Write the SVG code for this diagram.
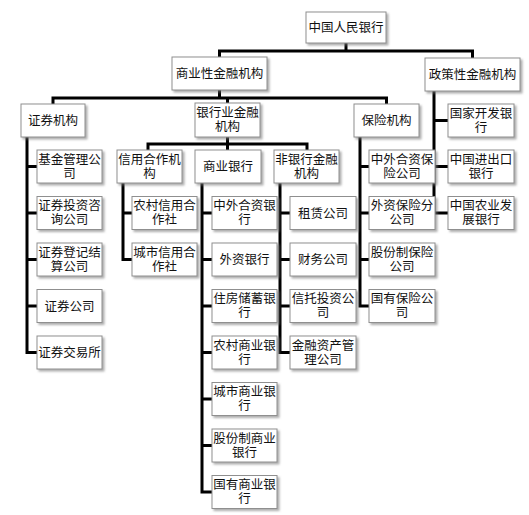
<svg xmlns="http://www.w3.org/2000/svg" width="529" height="515" viewBox="0 0 529 515">
<defs>
<filter id="sh" x="-10%" y="-10%" width="130%" height="140%">
<feDropShadow dx="2" dy="2" stdDeviation="1.2" flood-color="#777" flood-opacity="0.6"/>
</filter>
<style>
rect.b{fill:#fff;stroke:#8f8f8f;stroke-width:1;filter:url(#sh)}
text{font-family:"Noto Sans CJK SC","Noto Sans",sans-serif;font-size:12.5px;fill:#111;text-anchor:middle}
.c{fill:none;stroke:#000;stroke-width:3;stroke-linecap:square}
</style>
</defs>
<rect width="529" height="515" fill="#fff"/>
<g id="connectors">
<path class="c" d="M346,43V51M219.5,51H472.5M219.5,51V57M472.5,51V58"/>
<path class="c" d="M219.5,90V98M53,98H386.5M53,98V104M227.5,98V103M386.5,98V104"/>
<path class="c" d="M434,91V213M434,120.5H448M434,166.5H448M434,213H448"/>
<path class="c" d="M27,137V352.5M27,166.5H37M27,213H37M27,259.5H37M27,306H37M27,352.5H37"/>
<path class="c" d="M227.5,137V150M148,144H307M148,144V150M307,144V150"/>
<path class="c" d="M123,183V259.5M123,213H132M123,259.5H132"/>
<path class="c" d="M202,183V492M202,213H212M202,259.5H212M202,306H212M202,352.5H212M202,399H212M202,445.5H212M202,492H212"/>
<path class="c" d="M280,183V352.5M280,213H290M280,259.5H290M280,306H290M280,352.5H290"/>
<path class="c" d="M360,137V306M360,166.5H369M360,213H369M360,259.5H369M360,306H369"/>
</g>
<g id="n-pboc"><rect class="b" x="306" y="12" width="80" height="31"/><text x="346" y="32">中国人民银行</text></g>
<g id="n-commercial"><rect class="b" x="172" y="57" width="95" height="33"/><text x="219.5" y="78">商业性金融机构</text></g>
<g id="n-policy"><rect class="b" x="425" y="58" width="95" height="33"/><text x="472.5" y="79">政策性金融机构</text></g>
<g id="n-securities"><rect class="b" x="21" y="104" width="64" height="33"/><text x="53" y="125">证券机构</text></g>
<g id="n-banking"><rect class="b" x="195" y="103" width="65" height="34"/><text x="227.5" y="116.5">银行业金融<tspan x="227.5" dy="14.5">机构</tspan></text></g>
<g id="n-insurance"><rect class="b" x="354" y="104" width="65" height="33"/><text x="386.5" y="125">保险机构</text></g>
<g id="n-cdb"><rect class="b" x="448" y="104" width="66" height="33"/><text x="481" y="117.5">国家开发银<tspan x="481" dy="14">行</tspan></text></g>

<g id="n-fund"><rect class="b" x="37" y="150" width="65" height="33"/><text x="69.5" y="163.5">基金管理公<tspan x="69.5" dy="14">司</tspan></text></g>
<g id="n-consult"><rect class="b" x="37" y="196.5" width="65" height="33"/><text x="69.5" y="210">证券投资咨<tspan x="69.5" dy="14">询公司</tspan></text></g>
<g id="n-clearing"><rect class="b" x="37" y="243" width="65" height="33"/><text x="69.5" y="256.5">证券登记结<tspan x="69.5" dy="14">算公司</tspan></text></g>
<g id="n-broker"><rect class="b" x="37" y="289.5" width="65" height="33"/><text x="69.5" y="310.5">证券公司</text></g>
<g id="n-exchange"><rect class="b" x="37" y="336" width="65" height="33"/><text x="69.5" y="357">证券交易所</text></g>

<g id="n-credit"><rect class="b" x="117" y="150" width="65" height="33"/><text x="149.5" y="163.5">信用合作机<tspan x="149.5" dy="14">构</tspan></text></g>
<g id="n-rcc"><rect class="b" x="132" y="196.5" width="65" height="33"/><text x="164.5" y="210">农村信用合<tspan x="164.5" dy="14">作社</tspan></text></g>
<g id="n-ucc"><rect class="b" x="132" y="243" width="65" height="33"/><text x="164.5" y="256.5">城市信用合<tspan x="164.5" dy="14">作社</tspan></text></g>

<g id="n-combank"><rect class="b" x="195" y="150" width="66" height="33"/><text x="228" y="171">商业银行</text></g>
<g id="n-jv"><rect class="b" x="212" y="196.5" width="65" height="33"/><text x="244.5" y="210">中外合资银<tspan x="244.5" dy="14">行</tspan></text></g>
<g id="n-foreign"><rect class="b" x="212" y="243" width="65" height="33"/><text x="244.5" y="264">外资银行</text></g>
<g id="n-housing"><rect class="b" x="212" y="289.5" width="65" height="33"/><text x="244.5" y="303">住房储蓄银<tspan x="244.5" dy="14">行</tspan></text></g>
<g id="n-rcb"><rect class="b" x="212" y="336" width="65" height="33"/><text x="244.5" y="349.5">农村商业银<tspan x="244.5" dy="14">行</tspan></text></g>
<g id="n-ccb"><rect class="b" x="212" y="382.5" width="65" height="33"/><text x="244.5" y="396">城市商业银<tspan x="244.5" dy="14">行</tspan></text></g>
<g id="n-jsb"><rect class="b" x="212" y="429" width="65" height="33"/><text x="244.5" y="442.5">股份制商业<tspan x="244.5" dy="14">银行</tspan></text></g>
<g id="n-soe"><rect class="b" x="212" y="475.5" width="65" height="33"/><text x="244.5" y="489">国有商业银<tspan x="244.5" dy="14">行</tspan></text></g>

<g id="n-nonbank"><rect class="b" x="274" y="150" width="65" height="33"/><text x="306.5" y="163.5">非银行金融<tspan x="306.5" dy="14">机构</tspan></text></g>
<g id="n-leasing"><rect class="b" x="290" y="196.5" width="66" height="33"/><text x="323" y="217.5">租赁公司</text></g>
<g id="n-finance"><rect class="b" x="290" y="243" width="66" height="33"/><text x="323" y="264">财务公司</text></g>
<g id="n-trust"><rect class="b" x="290" y="289.5" width="66" height="33"/><text x="323" y="303">信托投资公<tspan x="323" dy="14">司</tspan></text></g>
<g id="n-amc"><rect class="b" x="290" y="336" width="66" height="33"/><text x="323" y="349.5">金融资产管<tspan x="323" dy="14">理公司</tspan></text></g>

<g id="n-jvins"><rect class="b" x="369" y="150" width="66" height="33"/><text x="402" y="163.5">中外合资保<tspan x="402" dy="14">险公司</tspan></text></g>
<g id="n-forins"><rect class="b" x="369" y="196.5" width="66" height="33"/><text x="402" y="210">外资保险分<tspan x="402" dy="14">公司</tspan></text></g>
<g id="n-jsins"><rect class="b" x="369" y="243" width="66" height="33"/><text x="402" y="256.5">股份制保险<tspan x="402" dy="14">公司</tspan></text></g>
<g id="n-soeins"><rect class="b" x="369" y="289.5" width="66" height="33"/><text x="402" y="303">国有保险公<tspan x="402" dy="14">司</tspan></text></g>

<g id="n-exim"><rect class="b" x="448" y="150" width="66" height="33"/><text x="481" y="163.5">中国进出口<tspan x="481" dy="14">银行</tspan></text></g>
<g id="n-adbc"><rect class="b" x="448" y="196.5" width="66" height="33"/><text x="481" y="210">中国农业发<tspan x="481" dy="14">展银行</tspan></text></g>
</svg>
